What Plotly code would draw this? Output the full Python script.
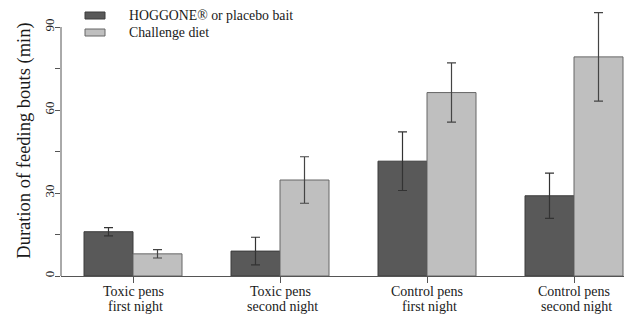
import plotly.graph_objects as go

categories = ["Toxic pens first night", "Toxic pens second night",
              "Control pens first night", "Control pens second night"]
label_line1 = ["Toxic pens", "Toxic pens", "Control pens", "Control pens"]
label_line2 = ["first night", "second night", "first night", "second night"]
series_names = ["HOGGONE® or placebo bait", "Challenge diet"]
bait_values = [16.0, 9.0, 41.5, 29.0]
bait_errors = [1.5, 5.0, 10.6, 8.2]
diet_values = [8.0, 34.7, 66.3, 79.2]
diet_errors = [1.5, 8.4, 10.7, 16.0]
y_tick_vals = [0, 15, 30, 45, 60, 75, 90]
y_tick_text = ["0", "", "30", "", "60", "", "90"]

W, H = 624, 314
ML, MR, MT, MB = 61, 0, 5, 38
PW, PH = W - ML - MR, H - MT - MB
FONT = "Liberation Serif"
DARK, LIGHT, EDGE = "#595959", "#bfbfbf", "#3c3c3c"


def px(x):
    return (x - ML) / PW


def py(y):
    return 1 - (y - MT) / PH


fig = go.Figure()
fig.add_trace(go.Bar(
    x=categories, y=bait_values, name=series_names[0], showlegend=False,
    marker=dict(color=DARK, line=dict(color=EDGE, width=1)),
    error_y=dict(type="data", array=bait_errors, color="#333333", thickness=1.2, width=4.5),
))
fig.add_trace(go.Bar(
    x=categories, y=diet_values, name=series_names[1], showlegend=False,
    marker=dict(color=LIGHT, line=dict(color="#666666", width=1)),
    error_y=dict(type="data", array=diet_errors, color="#444444", thickness=1.2, width=4.5),
))

# y-axis line from 0 to 90
fig.add_shape(type="line", xref="paper", yref="y", x0=0, x1=0, y0=0, y1=90,
              line=dict(color="#555555", width=1))

# x category labels (two lines each)
for cat, l1, l2 in zip(categories, label_line1, label_line2):
    fig.add_annotation(xref="x", yref="paper", x=cat, y=py(291.5), text=l1,
                       showarrow=False, xanchor="center", yanchor="middle",
                       font=dict(family=FONT, size=14, color="#1a1a1a"))
    fig.add_annotation(xref="x", yref="paper", x=cat, y=py(306.5), text=l2,
                       showarrow=False, xanchor="center", yanchor="middle", xshift=2,
                       font=dict(family=FONT, size=14, color="#1a1a1a"))

# legend drawn manually
legend_colors = [DARK, LIGHT]
legend_edges = [EDGE, "#666666"]
for i, (name, col) in enumerate(zip(series_names, legend_colors)):
    y0 = 12 + 17 * i
    fig.add_shape(type="rect", xref="paper", yref="paper",
                  x0=px(85), x1=px(105), y0=py(y0), y1=py(y0 + 7),
                  fillcolor=col, line=dict(color=legend_edges[i], width=1))
    fig.add_annotation(xref="paper", yref="paper", x=px(127), y=py(y0 + 3.5),
                       text=name, showarrow=False, xanchor="left", yanchor="middle",
                       font=dict(family=FONT, size=13.8, color="#1a1a1a"))

rng_left = (ML - 133) / 147
rng_right = rng_left + PW / 147

fig.update_layout(
    width=W, height=H,
    margin=dict(l=ML, r=MR, t=MT, b=MB, autoexpand=False),
    plot_bgcolor="white", paper_bgcolor="white",
    barmode="group", bargap=1 / 3, bargroupgap=0,
    font=dict(family=FONT, size=13, color="#1a1a1a"),
    xaxis=dict(
        range=[rng_left, rng_right], showgrid=False, zeroline=False, automargin=False,
        showline=True, linecolor="#555555", linewidth=1,
        ticks="outside", ticklen=6, tickcolor="#555555", showticklabels=False,
    ),
    yaxis=dict(
        range=[0, PH / (249 / 90)], showgrid=False, zeroline=False, showline=False,
        automargin=False,
        tickvals=y_tick_vals, ticktext=y_tick_text, tickangle=-90,
        ticks="outside", ticklen=5, tickcolor="#555555", ticklabelstandoff=-4,
        tickfont=dict(family=FONT, size=13, color="#1a1a1a"),
        title=dict(text="Duration of feeding bouts (min)", standoff=6,
                   font=dict(family=FONT, size=18.5, color="#1a1a1a")),
    ),
)

fig.write_html("out.html", config={"displayModeBar": False},
               post_script="document.body.style.margin='0';document.body.style.overflow='hidden';")
